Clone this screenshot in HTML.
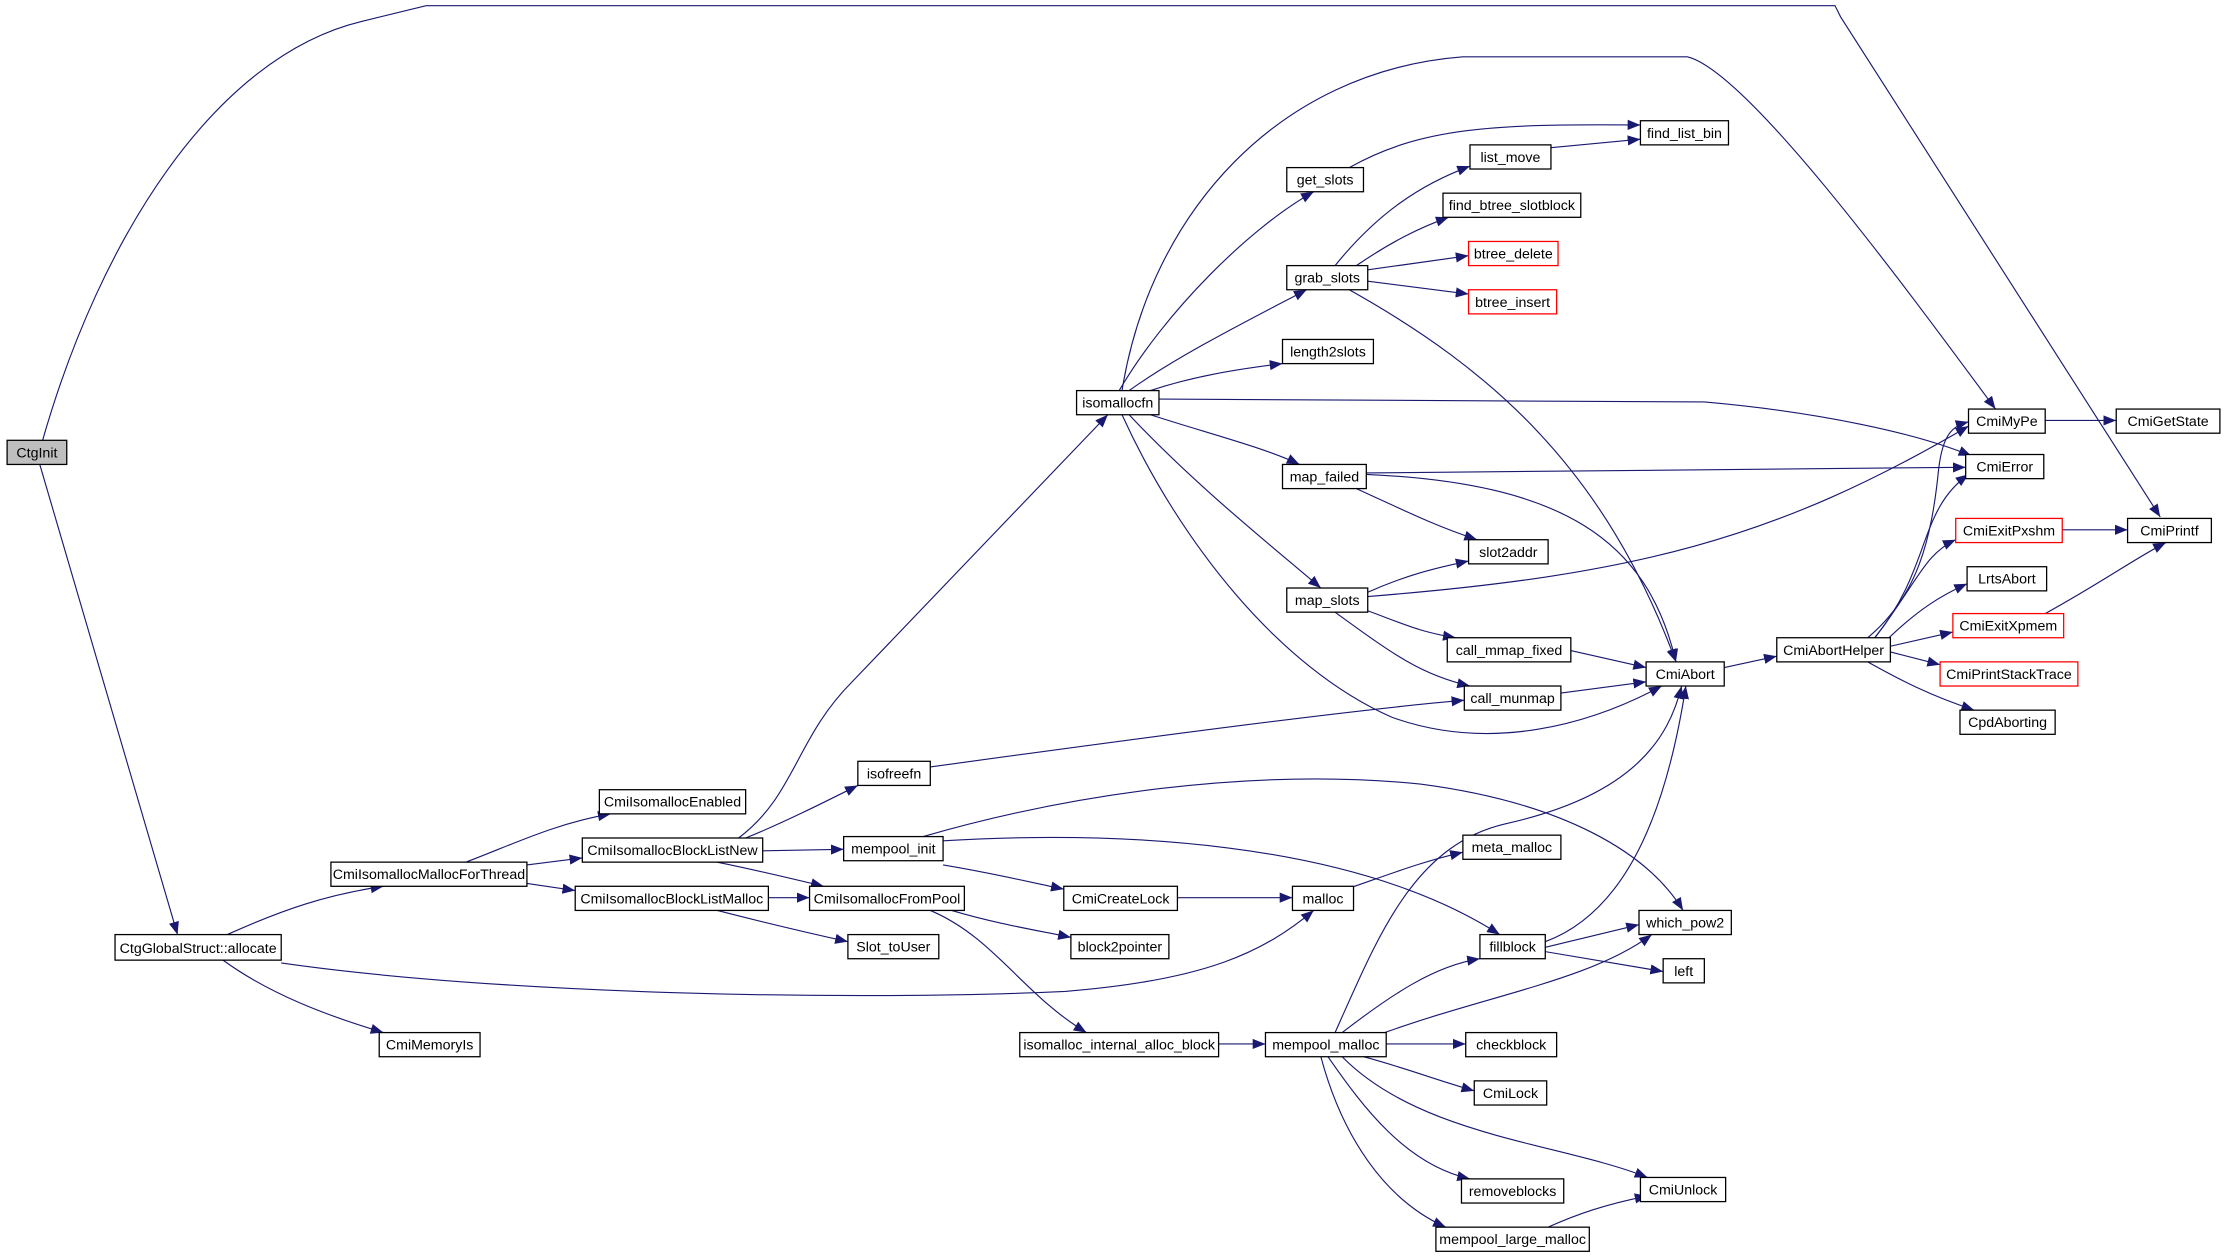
<!DOCTYPE html>
<html><head><meta charset="utf-8"><style>
html,body{margin:0;padding:0;background:#fff;}
svg{display:block;}
text{font-family:"Liberation Sans",sans-serif;font-size:10px;fill:#000;}
</style></head><body>
<svg width="2227" height="1256" viewBox="0 0 1568 884.3" preserveAspectRatio="none" xmlns="http://www.w3.org/2000/svg">
<defs>
<marker id="a" viewBox="0 0 10 10" refX="10" refY="5" markerWidth="9" markerHeight="9" markerUnits="userSpaceOnUse" orient="auto">
<path d="M0,1 L10,5 L0,9 z" fill="#191970"/>
</marker>
</defs>
<g fill="none" stroke="#191970" stroke-width="0.8" marker-end="url(#a)">
<path d="M30,310 C70,170 150,40 255,15 L300,4 L1292,4 L1296,12 L1521,364"/>
<path d="M28,327 L125,658"/>
<path d="M160,658 C200,640 230,630 270,624"/>
<path d="M198,678 C350,700 600,705 750,698 C850,690 890,670 925,641"/>
<path d="M157,676 C190,700 230,715 270,727"/>
<path d="M328,607 C360,595 390,580 430,573"/>
<path d="M371,609 L410,604"/>
<path d="M371,622 L405,627"/>
<path d="M525,590 C550,580 580,565 604,553"/>
<path d="M520,590 C560,560 560,520 600,480 L780,292"/>
<path d="M537,599 L594,598"/>
<path d="M505,607 C530,612 555,618 580,624"/>
<path d="M541,632 L570,632"/>
<path d="M505,641 C540,650 570,657 597,663"/>
<path d="M664,609 C700,615 720,620 749,626"/>
<path d="M650,589 C750,560 880,540 1000,552 C1100,565 1160,600 1185,641"/>
<path d="M664,592 C780,585 950,590 1056,658"/>
<path d="M670,641 C700,650 730,655 754,660"/>
<path d="M655,641 C700,660 720,700 765,727"/>
<path d="M829,632 L910,632"/>
<path d="M948,626 C980,615 1000,607 1030,600"/>
<path d="M655,540 C800,520 950,500 1031,493"/>
<path d="M858,735 L891,735"/>
<path d="M976,735 L1032,735"/>
<path d="M960,744 C990,752 1010,760 1038,768"/>
<path d="M945,744 C1000,800 1100,805 1160,829"/>
<path d="M935,744 C960,780 990,820 1035,830"/>
<path d="M930,744 C945,800 975,845 1018,864"/>
<path d="M945,727 C980,700 1010,680 1042,675"/>
<path d="M975,727 C1050,700 1120,690 1163,658"/>
<path d="M940,727 C970,660 995,595 1060,580 C1150,560 1175,520 1184,483"/>
<path d="M1090,864 C1110,855 1130,848 1160,842"/>
<path d="M1088,667 L1154,651"/>
<path d="M1088,670 L1171,684"/>
<path d="M1088,663 C1150,640 1175,560 1187,483"/>
<path d="M788,275 C820,220 880,160 925,135"/>
<path d="M795,275 C830,250 880,225 920,204"/>
<path d="M810,275 C840,265 870,260 903,256"/>
<path d="M816,281 L1200,283 C1280,290 1350,305 1388,321"/>
<path d="M790,275 C810,150 900,50 1030,40 L1188,40 C1230,50 1340,200 1405,288"/>
<path d="M810,292 C850,305 890,315 915,327"/>
<path d="M795,292 C840,340 890,380 930,414"/>
<path d="M790,292 C830,380 900,470 980,505 C1050,530 1120,510 1170,483"/>
<path d="M950,118 C1000,90 1050,87 1155,88"/>
<path d="M1092,104 L1155,98"/>
<path d="M940,187 C970,150 1000,130 1035,117"/>
<path d="M955,187 C980,170 1000,160 1020,153"/>
<path d="M963,190 L1034,180"/>
<path d="M963,198 L1034,207"/>
<path d="M950,204 C1050,260 1130,330 1180,466"/>
<path d="M962,333 L1384,329"/>
<path d="M962,334 C1100,340 1160,380 1180,466"/>
<path d="M955,344 C990,360 1010,370 1040,380"/>
<path d="M963,417 C990,405 1010,400 1034,395"/>
<path d="M963,420 C1150,405 1250,380 1386,300"/>
<path d="M963,430 C990,440 1000,445 1025,449"/>
<path d="M940,431 C980,460 1000,475 1035,483"/>
<path d="M1106,458 L1159,470"/>
<path d="M1099,488 L1159,480"/>
<path d="M1214,470 L1251,462"/>
<path d="M1315,449 C1350,420 1360,380 1365,330 C1368,305 1375,300 1386,297"/>
<path d="M1320,449 C1360,400 1350,360 1386,334"/>
<path d="M1320,449 C1350,410 1355,390 1377,380"/>
<path d="M1330,449 C1350,430 1365,420 1385,411"/>
<path d="M1331,455 L1375,445"/>
<path d="M1331,459 L1366,468"/>
<path d="M1315,466 C1340,480 1360,490 1390,500"/>
<path d="M1440,296 L1490,296"/>
<path d="M1452,373 L1498,373"/>
<path d="M1440,432 C1480,410 1505,392 1525,382"/>
</g>
<g stroke-width="0.9" fill="#fff" stroke="#000">
<rect x="5" y="310" width="42" height="17" fill="#bfbfbf"/>
<rect x="81" y="658" width="117" height="18"/>
<rect x="267" y="727" width="71" height="17"/>
<rect x="233" y="607" width="138" height="17"/>
<rect x="422" y="556" width="103" height="17"/>
<rect x="410" y="590" width="127" height="17"/>
<rect x="405" y="624" width="136" height="17"/>
<rect x="604" y="536" width="51" height="17"/>
<rect x="594" y="589" width="70" height="17"/>
<rect x="570" y="624" width="109" height="17"/>
<rect x="597" y="658" width="64" height="17"/>
<rect x="749" y="624" width="80" height="17"/>
<rect x="754" y="658" width="69" height="17"/>
<rect x="910" y="624" width="43" height="17"/>
<rect x="1030" y="588" width="69" height="17"/>
<rect x="718" y="727" width="140" height="17"/>
<rect x="891" y="727" width="85" height="17"/>
<rect x="1032" y="727" width="64" height="17"/>
<rect x="1038" y="761" width="51" height="17"/>
<rect x="1029" y="830" width="72" height="17"/>
<rect x="1011" y="864" width="108" height="17"/>
<rect x="1155" y="829" width="60" height="17"/>
<rect x="1042" y="658" width="46" height="17"/>
<rect x="1154" y="641" width="65" height="17"/>
<rect x="1171" y="675" width="29" height="17"/>
<rect x="758" y="275" width="58" height="17"/>
<rect x="906" y="118" width="54" height="17"/>
<rect x="1035" y="102" width="57" height="17"/>
<rect x="1155" y="85" width="62" height="17"/>
<rect x="1016" y="136" width="97" height="17"/>
<rect x="1034" y="170" width="63" height="17" stroke="#f00"/>
<rect x="1034" y="204" width="62" height="17" stroke="#f00"/>
<rect x="906" y="187" width="57" height="17"/>
<rect x="903" y="239" width="64" height="17"/>
<rect x="903" y="327" width="59" height="17"/>
<rect x="1034" y="380" width="56" height="17"/>
<rect x="906" y="414" width="57" height="17"/>
<rect x="1019" y="449" width="87" height="17"/>
<rect x="1031" y="483" width="68" height="17"/>
<rect x="1159" y="466" width="55" height="17"/>
<rect x="1251" y="449" width="80" height="17"/>
<rect x="1386" y="288" width="54" height="17"/>
<rect x="1490" y="288" width="73" height="17"/>
<rect x="1384" y="320" width="55" height="17"/>
<rect x="1377" y="365" width="75" height="17" stroke="#f00"/>
<rect x="1498" y="365" width="59" height="17"/>
<rect x="1385" y="399" width="56" height="17"/>
<rect x="1375" y="432" width="78" height="17" stroke="#f00"/>
<rect x="1366" y="466" width="97" height="17" stroke="#f00"/>
<rect x="1380" y="500" width="67" height="17"/>
</g>
<g text-anchor="middle">
<text x="26" y="322">CtgInit</text>
<text x="139.5" y="671">CtgGlobalStruct::allocate</text>
<text x="302.5" y="739">CmiMemoryIs</text>
<text x="302" y="619">CmiIsomallocMallocForThread</text>
<text x="473.5" y="568">CmiIsomallocEnabled</text>
<text x="473.5" y="602">CmiIsomallocBlockListNew</text>
<text x="473" y="636">CmiIsomallocBlockListMalloc</text>
<text x="629.5" y="548">isofreefn</text>
<text x="629" y="601">mempool_init</text>
<text x="624.5" y="636">CmiIsomallocFromPool</text>
<text x="629" y="670">Slot_toUser</text>
<text x="789" y="636">CmiCreateLock</text>
<text x="788.5" y="670">block2pointer</text>
<text x="931.5" y="636">malloc</text>
<text x="1064.5" y="600">meta_malloc</text>
<text x="788" y="739">isomalloc_internal_alloc_block</text>
<text x="933.5" y="739">mempool_malloc</text>
<text x="1064" y="739">checkblock</text>
<text x="1063.5" y="773">CmiLock</text>
<text x="1065" y="842">removeblocks</text>
<text x="1065" y="876">mempool_large_malloc</text>
<text x="1185" y="841">CmiUnlock</text>
<text x="1065" y="670">fillblock</text>
<text x="1186.5" y="653">which_pow2</text>
<text x="1185.5" y="687">left</text>
<text x="787" y="287">isomallocfn</text>
<text x="933" y="130">get_slots</text>
<text x="1063.5" y="114">list_move</text>
<text x="1186" y="97">find_list_bin</text>
<text x="1064.5" y="148">find_btree_slotblock</text>
<text x="1065.5" y="182">btree_delete</text>
<text x="1065" y="216">btree_insert</text>
<text x="934.5" y="199">grab_slots</text>
<text x="935" y="251">length2slots</text>
<text x="932.5" y="339">map_failed</text>
<text x="1062" y="392">slot2addr</text>
<text x="934.5" y="426">map_slots</text>
<text x="1062.5" y="461">call_mmap_fixed</text>
<text x="1065" y="495">call_munmap</text>
<text x="1186.5" y="478">CmiAbort</text>
<text x="1291" y="461">CmiAbortHelper</text>
<text x="1413" y="300">CmiMyPe</text>
<text x="1526.5" y="300">CmiGetState</text>
<text x="1411.5" y="332">CmiError</text>
<text x="1414.5" y="377">CmiExitPxshm</text>
<text x="1527.5" y="377">CmiPrintf</text>
<text x="1413" y="411">LrtsAbort</text>
<text x="1414" y="444">CmiExitXpmem</text>
<text x="1414.5" y="478">CmiPrintStackTrace</text>
<text x="1413.5" y="512">CpdAborting</text>
</g>
</svg>
</body></html>
